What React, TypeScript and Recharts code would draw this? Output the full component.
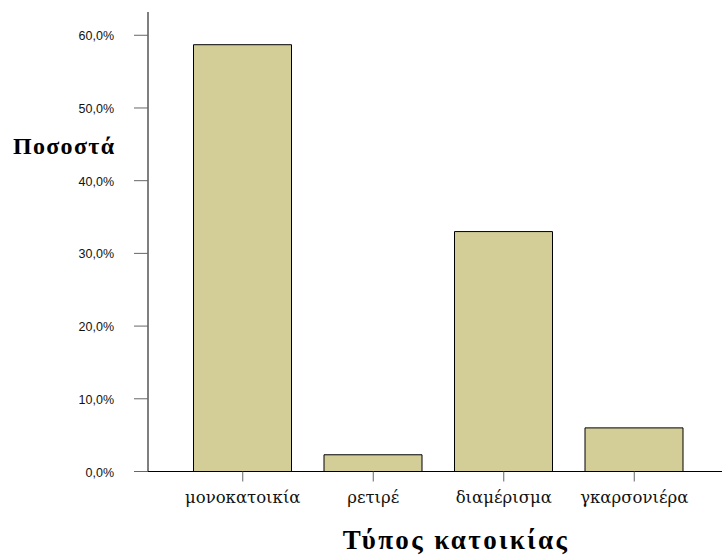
import { Bar, BarChart, XAxis, YAxis } from 'recharts';

const categories = ['μονοκατοικία', 'ρετιρέ', 'διαμέρισμα', 'γκαρσονιέρα'];
const percentages = [58.7, 2.3, 33.0, 6.0];
const yTicks = [0, 10, 20, 30, 40, 50, 60];

const data = categories.map((name, i) => ({ name, value: percentages[i] }));

const fmt = (v: number) => v.toFixed(1).replace('.', ',') + '%';

// regular Liberation Serif has no greek here, DejaVu Serif does
const TICK_SERIF = '"DejaVu Serif", serif';
const TITLE_SERIF = '"Liberation Serif", "Times New Roman", serif';
const SANS = '"Liberation Sans", Arial, sans-serif';

function CategoryTick(props: any) {
  const { x, y, payload } = props;
  return (
    <g>
      <text x={x} y={y + 21.5} textAnchor="middle" style={{ fill: '#111', fontSize: 16.5, fontFamily: TICK_SERIF }}>
        {payload.value}
      </text>
    </g>
  );
}

function PercentTick(props: any) {
  const { x, y, payload } = props;
  return (
    <g>
      <text x={x - 2} y={y + 5} textAnchor="end" style={{ fill: '#111', fontSize: 12.5, fontFamily: SANS }}>
        {fmt(payload.value)}
      </text>
    </g>
  );
}

export default function App() {
  return (
    <div style={{ position: 'absolute', left: 0, top: 0, width: 722, height: 559, overflow: 'hidden', background: '#fff' }}>
      <BarChart width={722} height={559} data={data} margin={{ top: 12, right: 0, bottom: 0, left: 0 }}>
        <XAxis
          xAxisId="top"
          orientation="top"
          dataKey="name"
          height={0}
          tick={false}
          tickLine={false}
          axisLine={{ stroke: '#404040', strokeWidth: 2 }}
        />
        <XAxis
          dataKey="name"
          height={87.5}
          padding={{ left: 29.5, right: 22.5 }}
          axisLine={{ stroke: '#000' }}
          tickLine={{ stroke: '#666' }}
          tickSize={10}
          tickMargin={0}
          tick={CategoryTick}
          label={{
            value: 'Τύπος κατοικίας',
            position: 'insideBottom',
            offset: 10,
            dx: 21,
            style: { fill: '#000', fontSize: 27, fontWeight: 'bold', letterSpacing: 2.4, fontFamily: TITLE_SERIF },
          }}
        />
        <YAxis
          width={148}
          domain={[0, 63.2]}
          ticks={yTicks}
          axisLine={{ stroke: '#000' }}
          tickLine={{ stroke: '#666' }}
          tickSize={14}
          tickMargin={18}
          tick={PercentTick}
          label={{
            value: 'Ποσοστά',
            position: 'insideLeft',
            offset: 13,
            dy: -96,
            style: { fill: '#000', fontSize: 24, fontWeight: 'bold', letterSpacing: 1.3, fontFamily: TITLE_SERIF },
          }}
        />
        <Bar dataKey="value" fill="#d3ce98" stroke="#000" strokeWidth={1} barSize={98} isAnimationActive={false} />
      </BarChart>
    </div>
  );
}
